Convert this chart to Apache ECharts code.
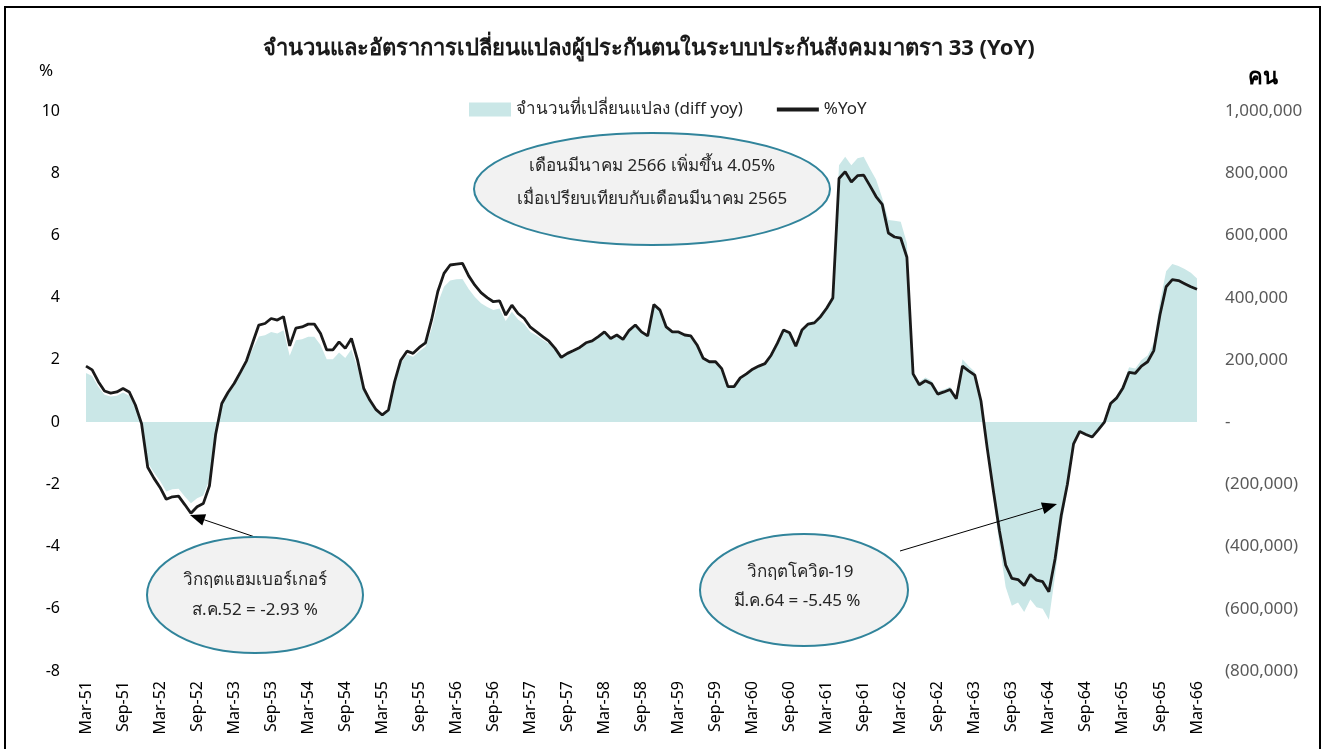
<!DOCTYPE html>
<html><head><meta charset="utf-8">
<script src="https://cdn.jsdelivr.net/npm/echarts@6/dist/echarts.min.js"></script>
<style>html,body{margin:0;padding:0;background:#fff}#c{width:1328px;height:749px}</style>
</head><body><div id="c"></div>
<script>
// ---- data ----
const monthNames = ['Jan','Feb','Mar','Apr','May','Jun','Jul','Aug','Sep','Oct','Nov','Dec'];
const firstYear = 51, firstMonthIdx = 2, monthCount = 181; // Mar-51 .. Mar-66
const categories = [];
for (let i = 0; i < monthCount; i++) {
  const m = (firstMonthIdx + i) % 12;
  const y = firstYear + Math.floor((firstMonthIdx + i) / 12);
  categories.push(monthNames[m] + '-' + y);
}
const yoyPct = [
1.80,1.68,1.30,1.00,0.93,0.97,1.08,0.97,0.55,-0.05,
-1.45,-1.80,-2.10,-2.48,-2.40,-2.38,-2.65,-2.93,-2.72,-2.62,
-2.05,-0.40,0.60,0.95,1.24,1.60,1.97,2.55,3.12,3.17,
3.33,3.28,3.39,2.45,3.02,3.06,3.15,3.15,2.85,2.32,
2.32,2.58,2.37,2.69,1.99,1.08,0.70,0.40,0.23,0.39,
1.30,1.99,2.28,2.21,2.40,2.55,3.30,4.20,4.78,5.05,
5.08,5.10,4.70,4.40,4.16,4.00,3.87,3.90,3.44,3.76,
3.49,3.33,3.05,2.90,2.75,2.60,2.37,2.08,2.21,2.30,
2.40,2.55,2.61,2.75,2.90,2.69,2.80,2.66,2.95,3.12,
2.90,2.77,3.78,3.60,3.06,2.90,2.90,2.80,2.77,2.48,
2.05,1.94,1.94,1.72,1.14,1.14,1.42,1.55,1.70,1.80,
1.88,2.15,2.53,2.96,2.87,2.44,2.96,3.15,3.19,3.39,
3.66,3.99,7.83,8.05,7.72,7.92,7.94,7.60,7.25,7.00,
6.08,5.95,5.91,5.30,1.55,1.20,1.33,1.23,0.90,0.97,
1.05,0.75,1.80,1.65,1.51,0.68,-0.82,-2.20,-3.50,-4.60,
-5.02,-5.06,-5.25,-4.90,-5.08,-5.13,-5.45,-4.40,-3.00,-2.00,
-0.70,-0.30,-0.40,-0.48,-0.25,0.00,0.60,0.78,1.10,1.60,
1.57,1.80,1.94,2.30,3.45,4.35,4.58,4.55,4.45,4.35,
4.27
];
const diffYoy = [
158000,148000,114000,88000,82000,85000,95000,85000,48000,-4000,
-131000,-162000,-189000,-223000,-216000,-214000,-239000,-261000,-245000,-236000,
-185000,-38000,57000,90000,118000,152000,187000,236000,275000,279000,
290000,285000,295000,213000,263000,266000,274000,274000,248000,202000,
202000,224000,206000,234000,175000,100000,66000,38000,22000,37000,
124000,189000,217000,210000,228000,242000,300000,382000,435000,455000,
459000,460000,428000,402000,382000,370000,360000,365000,325000,355000,
330000,315000,290000,278000,265000,252000,231000,205000,218000,227000,
237000,253000,259000,273000,288000,267000,278000,264000,293000,310000,
288000,275000,376000,358000,304000,288000,288000,278000,275000,246000,
203000,192000,192000,170000,113000,113000,141000,154000,169000,179000,
188000,216000,256000,300000,291000,248000,300000,320000,325000,346000,
374000,408000,826000,853000,826000,848000,853000,815000,780000,720000,
650000,647000,644000,575000,162000,130000,143000,133000,100000,105000,
114000,83000,202000,180000,162000,75000,-90000,-245000,-395000,-530000,
-590000,-580000,-610000,-570000,-595000,-600000,-635000,-495000,-335000,-220000,
-76000,-32000,-43000,-52000,-27000,2000,65000,85000,120000,176000,
172000,200000,214000,255000,385000,485000,508000,502000,492000,480000,
462000
];
const leftAxisRange = [-8, 10, 2];
const rightAxisRange = [-800000, 1000000, 200000];
const titleText = 'จำนวนและอัตราการเปลี่ยนแปลงผู้ประกันตนในระบบประกันสังคมมาตรา 33 (YoY)';
const seriesNames = ['จำนวนที่เปลี่ยนแปลง (diff yoy)', '%YoY'];

// ---- chart ----
const FONT = "'Noto Sans', 'DejaVu Sans', sans-serif";
const AREA = '#CAE7E7', TEAL = '#31849B';
const chart = echarts.init(document.getElementById('c'), null, {renderer: 'canvas'});

function arrow(x1, y1, x2, y2) {
  const a = Math.atan2(y2 - y1, x2 - x1), L = 15, W = 6;
  const bx = x2 - L * Math.cos(a), by = y2 - L * Math.sin(a);
  const px = -Math.sin(a) * W, py = Math.cos(a) * W;
  return [
    {type: 'line', shape: {x1, y1, x2: bx, y2: by}, style: {stroke: '#000', lineWidth: 1}, z: 100},
    {type: 'polygon', shape: {points: [[x2, y2], [bx + px, by + py], [bx - px, by - py]]}, style: {fill: '#000'}, z: 100}
  ];
}
function bubble(cx, cy, rx, ry, lines) {
  const els = [{type: 'ellipse', shape: {cx, cy, rx, ry}, style: {fill: '#F2F2F2', stroke: TEAL, lineWidth: 2}, z: 100}];
  lines.forEach(t => {
    els.push({type: 'text', x: t[1], y: t[2], style: {text: t[0], font: '17px ' + FONT, fill: '#262626', align: 'center', verticalAlign: 'middle'}, z: 101});
  });
  return els;
}

const graphics = [].concat(
  [{type: 'rect', shape: {x: 5, y: 7, width: 1315, height: 750}, style: {fill: 'none', stroke: '#000', lineWidth: 2}, z: 0}],
  [{type: 'text', x: 46, y: 71, style: {text: '%', font: '17px ' + FONT, fill: '#000', align: 'center', verticalAlign: 'middle'}}],
  [{type: 'text', x: 1263, y: 78, style: {text: 'คน', font: 'bold 22px ' + FONT, fill: '#000', align: 'center', verticalAlign: 'middle'}}],
  arrow(255, 537, 190, 515),
  arrow(900, 551, 1057, 504),
  bubble(652, 189, 178, 56, [['เดือนมีนาคม 2566 เพิ่มขึ้น 4.05%', 652, 166], ['เมื่อเปรียบเทียบกับเดือนมีนาคม 2565', 652, 199]]),
  bubble(255, 595, 108, 58, [['วิกฤตแฮมเบอร์เกอร์', 255, 580], ['ส.ค.52 = -2.93 %', 255, 610]]),
  bubble(804, 590, 104, 56, [['วิกฤตโควิด-19', 800, 572], ['มี.ค.64 = -5.45 %', 797, 601]])
);

chart.setOption({
  animation: false,
  backgroundColor: '#fff',
  title: {text: titleText, left: 258, top: 33, textStyle: {fontFamily: FONT, fontSize: 22, fontWeight: 'bold', color: '#1a1a1a'}},
  legend: {
    left: 464, top: 96, itemWidth: 42, itemHeight: 14, itemGap: 34,
    textStyle: {fontFamily: FONT, fontSize: 17, color: '#262626'},
    data: [
      {name: seriesNames[0], icon: 'rect', itemStyle: {color: AREA}},
      {name: seriesNames[1], icon: 'path://M0,0H40V4H0Z', itemStyle: {color: '#1A1A1A'}}
    ]
  },
  grid: {left: 86, right: 131, top: 111, bottom: 78},
  xAxis: {
    type: 'category', data: categories, boundaryGap: false,
    axisLine: {show: false, onZero: false}, axisTick: {show: false},
    axisLabel: {interval: 5, rotate: 90, margin: 10, fontFamily: FONT, fontSize: 16, color: '#000'},
    splitLine: {show: false}
  },
  yAxis: [
    {type: 'value', min: leftAxisRange[0], max: leftAxisRange[1], interval: leftAxisRange[2],
     axisLine: {show: false}, axisTick: {show: false}, splitLine: {show: false},
     axisLabel: {margin: 26, fontFamily: FONT, fontSize: 16, color: '#000'}},
    {type: 'value', min: rightAxisRange[0], max: rightAxisRange[1], interval: rightAxisRange[2], position: 'right',
     axisLine: {show: false}, axisTick: {show: false}, splitLine: {show: false},
     axisLabel: {margin: 28, fontFamily: FONT, fontSize: 17, color: '#595959',
       formatter: v => v === 0 ? '-' : (v < 0 ? '(' + Math.abs(v).toLocaleString('en-US') + ')' : v.toLocaleString('en-US'))}}
  ],
  series: [
    {name: seriesNames[0], type: 'line', yAxisIndex: 1, data: diffYoy, symbol: 'none',
     itemStyle: {color: AREA}, lineStyle: {width: 0, color: AREA}, areaStyle: {color: AREA, opacity: 1}, z: 1},
    {name: seriesNames[1], type: 'line', yAxisIndex: 0, data: yoyPct, symbol: 'none',
     itemStyle: {color: '#1A1A1A'}, lineStyle: {width: 2.8, color: '#1A1A1A'}, z: 3}
  ],
  graphic: graphics
});
</script></body></html>
